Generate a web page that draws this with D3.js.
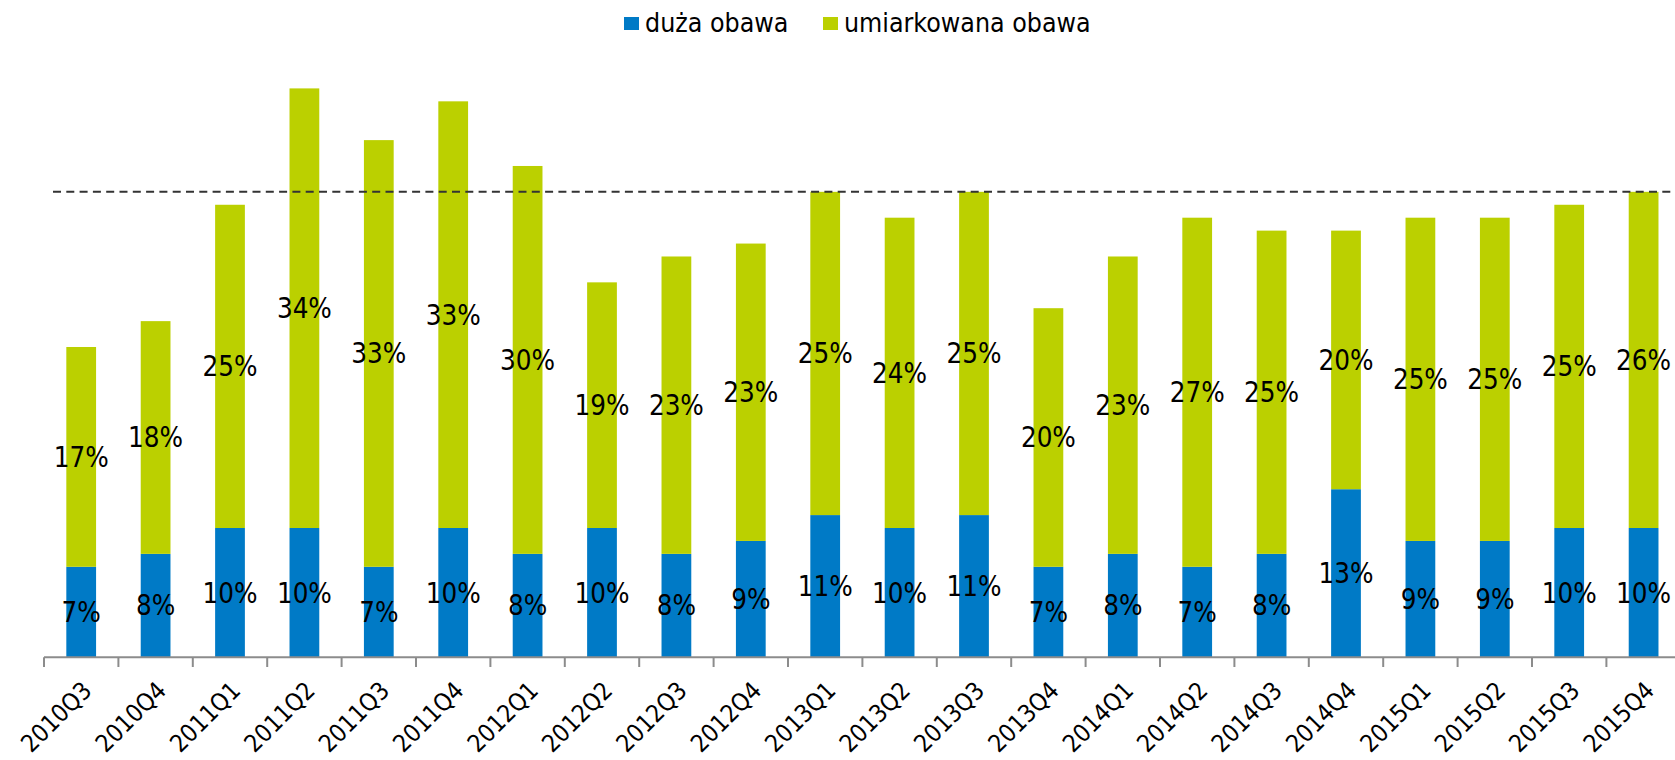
<!DOCTYPE html>
<html>
<head>
<meta charset="utf-8">
<script src="https://cdn.jsdelivr.net/npm/d3@7"></script>
<style>
  html, body { margin: 0; padding: 0; background: #fff; overflow: hidden; }
  svg { display: block; font-family: "DejaVu Sans Condensed", "DejaVu Sans", sans-serif; }
</style>
</head>
<body>
<svg id="chart" width="1675" height="760"></svg>
<script>
const categories = ["2010Q3","2010Q4","2011Q1","2011Q2","2011Q3","2011Q4","2012Q1","2012Q2","2012Q3","2012Q4","2013Q1","2013Q2","2013Q3","2013Q4","2014Q1","2014Q2","2014Q3","2014Q4","2015Q1","2015Q2","2015Q3","2015Q4"];
const duza = [7, 8, 10, 10, 7, 10, 8, 10, 8, 9, 11, 10, 11, 7, 8, 7, 8, 13, 9, 9, 10, 10];
const umiarkowana = [17, 18, 25, 34, 33, 33, 30, 19, 23, 23, 25, 24, 25, 20, 23, 27, 25, 20, 25, 25, 25, 26];
const seriesNames = ["duża obawa", "umiarkowana obawa"];
const refLine = 36;

const colors = ["#007ac6", "#bbd000"];
const svg = d3.select("#chart");

const x = d3.scaleBand().domain(categories).range([44, 44 + 22 * 74.4]).paddingInner(0.6).paddingOuter(0.3);
const y = d3.scaleLinear().domain([0, 44]).range([657.3, 88.4]);

const rows = categories.map((c, i) => ({ cat: c, duza: duza[i], umiarkowana: umiarkowana[i] }));
const stack = d3.stack().keys(["duza", "umiarkowana"])(rows);

const g = svg.append("g");
stack.forEach((layer, li) => {
  g.selectAll(null).data(layer).enter().append("rect")
    .attr("x", d => x(d.data.cat))
    .attr("width", x.bandwidth())
    .attr("y", d => y(d[1]))
    .attr("height", d => y(d[0]) - y(d[1]))
    .attr("fill", colors[li]);
});

// dashed reference line
svg.append("line")
  .attr("x1", 53).attr("x2", 1675)
  .attr("y1", y(refLine)).attr("y2", y(refLine))
  .attr("stroke", "#333").attr("stroke-width", 2)
  .attr("stroke-dasharray", "8,5.3");

// labels
stack.forEach((layer, li) => {
  g.selectAll(null).data(layer).enter().append("text")
    .attr("x", d => x(d.data.cat) + x.bandwidth() / 2)
    .attr("y", d => (y(d[0]) + y(d[1])) / 2)
    .attr("dy", "0.36em")
    .attr("text-anchor", "middle")
    .attr("font-size", 27.5)
    .attr("fill", "#000")
    .text(d => (d[1] - d[0]) + "%");
});

// x axis
const step = x.step();
const off = (step - x.bandwidth()) / 2;
const ax = svg.append("g");
ax.append("line").attr("x1", 44).attr("x2", 1675).attr("y1", 657.3).attr("y2", 657.3)
  .attr("stroke", "#8c8c8c").attr("stroke-width", 2);
const bounds = categories.map(c => x(c) - off).concat([x(categories[categories.length - 1]) - off + step]);
ax.selectAll(null).data(bounds).enter().append("line")
  .attr("x1", d => d).attr("x2", d => d)
  .attr("y1", 657.3).attr("y2", 667)
  .attr("stroke", "#8c8c8c").attr("stroke-width", 2);
ax.selectAll(null).data(categories).enter().append("text")
  .attr("transform", c => `translate(${x(c) + x.bandwidth() / 2 + 12},${692}) rotate(-45)`)
  .attr("text-anchor", "end")
  .attr("font-size", 24.5)
  .attr("fill", "#000")
  .text(c => c);

// legend
const leg = svg.append("g");
const legX = [624, 823];
seriesNames.forEach((n, i) => {
  leg.append("rect").attr("x", legX[i]).attr("y", 17).attr("width", 15).attr("height", 13).attr("fill", colors[i]);
  leg.append("text").attr("x", legX[i] + 21).attr("y", 32).attr("font-size", 26.5).attr("fill", "#000").text(n);
});
</script>
</body>
</html>
